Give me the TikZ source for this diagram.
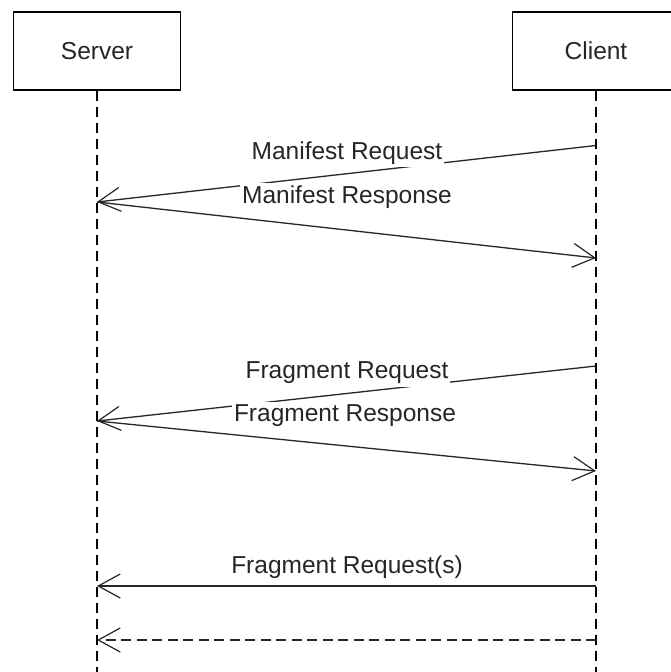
\documentclass[tikz,border=0pt]{standalone}
\usepackage{fontspec}
\setmainfont{Liberation Sans}
\usetikzlibrary{arrows.meta}

\begin{document}
\begin{tikzpicture}[x=1pt,y=-1pt,
  actor/.style={draw=black, line width=1.4pt, minimum width=167pt, minimum height=78pt,
    inner sep=0pt, font=\fontsize{24.5}{28}\selectfont, text=black!85},
  lifeline/.style={draw=black, line width=1.3pt, dash pattern=on 10.5pt off 5.5pt},
  msg/.style={draw=black!85, line width=1.3pt, -{Straight Barb[length=22pt,width=24pt,line width=1.2pt]}},
  reply/.style={msg, dash pattern=on 10pt off 5.5pt},
  msglabel/.style={fill=white, inner xsep=2pt, inner ysep=3pt,
    font=\fontsize{24.5}{28}\selectfont, text=black!85}]
  \useasboundingbox (0,0) rectangle (671,672);
  \fill[white] (0,0) rectangle (671,672);

  % participants
  \node[actor] (server) at (97,51) {Server};
  \node[actor] (client) at (596,51) {Client};

  % lifeline ends
  \coordinate (serverEnd) at (97,672);
  \coordinate (clientEnd) at (596,672);
  \draw[lifeline] (server.south) -- (serverEnd);
  \draw[lifeline] (client.south) -- (clientEnd);

  % message end points on the lifelines
  \coordinate (c1) at (596,145.5);
  \coordinate (s1) at (97,202);
  \coordinate (c2) at (596,258);
  \coordinate (c3) at (596,366);
  \coordinate (s3) at (97,421);
  \coordinate (c4) at (596,471);
  \coordinate (c5) at (596,586);
  \coordinate (s5) at (97,586);
  \coordinate (c6) at (596,640);
  \coordinate (s6) at (97,640);

  % messages
  \draw[msg] (c1) -- (s1);
  \draw[msg] (s1) -- (c2);
  \draw[msg] (c3) -- (s3);
  \draw[msg] (s3) -- (c4);
  \draw[msg] (c5) -- (s5);
  \draw[reply] (c6) -- (s6);

  % message labels
  \node[msglabel] (l1) at (347,153) {Manifest Request};
  \node[msglabel] (l2) at (347,197) {Manifest Response};
  \node[msglabel] (l3) at (347,373) {Fragment Request};
  \node[msglabel] (l4) at (345,416) {Fragment Response};
  \node[msglabel] (l5) at (347,567) {Fragment Request(s)};
\end{tikzpicture}
\end{document}
